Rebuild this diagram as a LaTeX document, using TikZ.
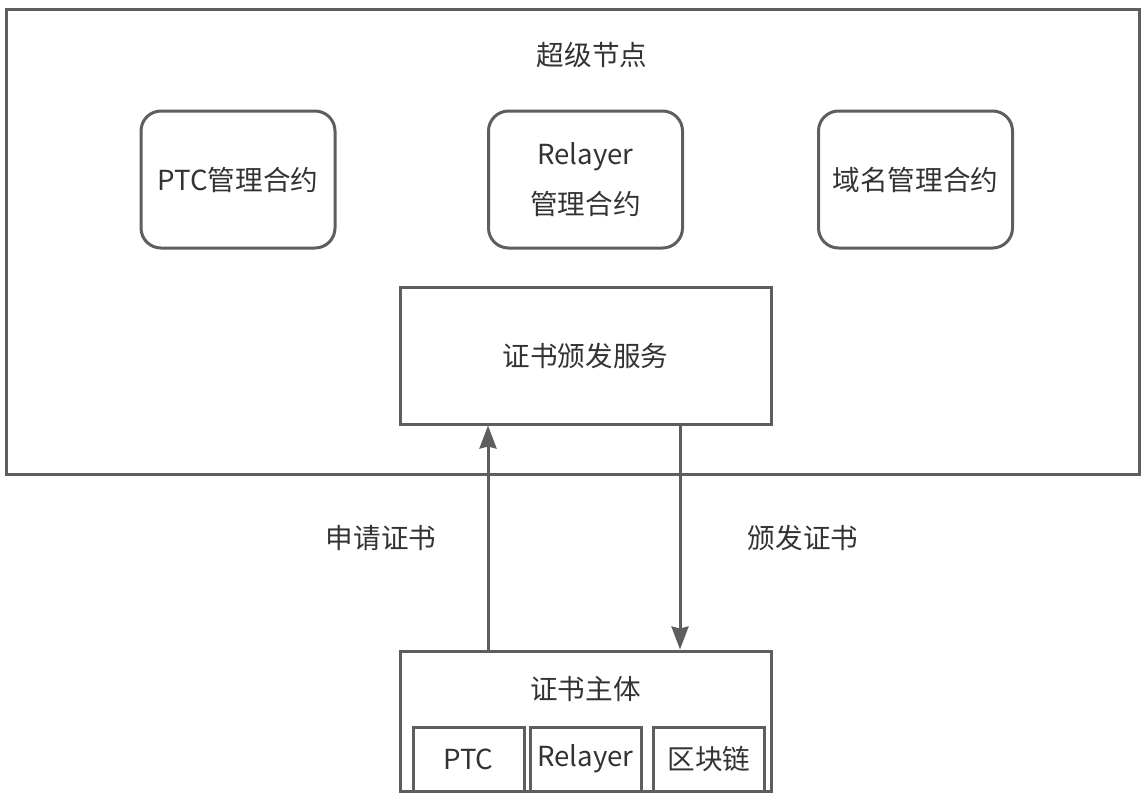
\documentclass[tikz,border=0pt]{standalone}
\usepackage{fontspec}
\setmainfont{Noto Sans CJK SC}
\usepackage{xcolor}
\usetikzlibrary{arrows.meta}

\definecolor{linegray}{HTML}{5E5E5E}
\definecolor{textgray}{HTML}{333333}

\tikzset{
  box/.style={draw=linegray, line width=1.5bp, text=textgray, align=center,
    inner sep=0pt},
  roundbox/.style={box, rounded corners=10bp, minimum width=97bp, minimum height=68.5bp},
  partbox/.style={box, minimum width=55.5bp, minimum height=32bp},
  arrowline/.style={draw=linegray, line width=1.5bp,
    -{Stealth[length=11.5bp, width=8.5bp, inset=1bp]}},
  label/.style={text=textgray}
}

\begin{document}
\begin{tikzpicture}[x=0.5bp, y=-0.5bp, font=\fontsize{13.8bp}{25bp}\selectfont]
  \useasboundingbox (0,0) rectangle (1148,795);

  % Super node frame
  \node[box, minimum width=566bp, minimum height=232bp] (super) at (573,242) {};
  \node[label] (title) at (592,55) {超级节点};

  % Contracts
  \node[roundbox] (ptc) at (238,179.5) {PTC管理合约};
  \node[roundbox] (relayer) at (585.5,179.5) {Relayer\\管理合约};
  \node[roundbox] (domain) at (915.5,179.5) {域名管理合约};

  % Certificate service
  \node[box, minimum width=185.5bp, minimum height=68.5bp] (issue) at (585.5,355.5) {证书颁发服务};

  % Certificate subject
  \node[box, minimum width=185.5bp, minimum height=70bp] (subject) at (585.5,721) {};
  \node[label] (subjtitle) at (585.5,689) {证书主体};
  \node[partbox] (sptc) at (468.5,759) {PTC};
  \node[partbox] (srelayer) at (585.5,759) {Relayer};
  \node[partbox] (schain) at (709,759) {区块链};

  % Request / issue arrows
  \coordinate (upx) at (488,0);
  \coordinate (dnx) at (680,0);
  \draw[arrowline] (subject.north -| upx) -- (issue.south -| upx);
  \draw[arrowline] (issue.south -| dnx) -- (subject.north -| dnx);
  \node[label] (request) at (381,538) {申请证书};
  \node[label] (grant) at (803,538) {颁发证书};
\end{tikzpicture}
\end{document}
